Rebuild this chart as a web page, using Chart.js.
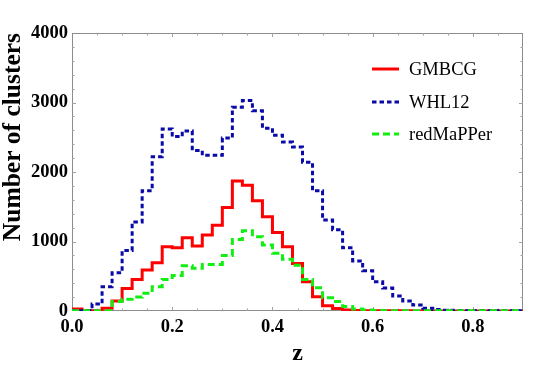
<!DOCTYPE html>
<html><head><meta charset="utf-8">
<script src="https://cdn.jsdelivr.net/npm/chart.js@4.4.1/dist/chart.umd.min.js"></script>
<style>html,body{margin:0;padding:0;background:#fff;} canvas{display:block;}</style>
</head><body>
<canvas id="c" width="556" height="370"></canvas>
<script>
// ---- data ----
const binLeft = [0.00,0.02,0.04,0.06,0.08,0.10,0.12,0.14,0.16,0.18,
                 0.20,0.22,0.24,0.26,0.28,0.30,0.32,0.34,0.36,0.38,
                 0.40,0.42,0.44,0.46,0.48,0.50,0.52,0.54,0.56,0.58,
                 0.60,0.62,0.64,0.66,0.68,0.70,0.72,0.74,0.76,0.78,
                 0.80,0.82,0.84,0.86,0.88];
const lastBinRight = 0.90;
const gmbcg = [30,3,3,40,145,325,455,590,695,925,
               910,1055,935,1095,1235,1490,1870,1810,1585,1355,
               1130,925,685,420,205,75,35,15,6,4,
               3,2,2,2,1,1,1,1,1,1,
               1,1,1,1,1];
const whl12 = [5,5,100,350,550,870,1280,1730,2220,2620,
               2510,2590,2310,2240,2240,2490,2930,3030,2880,2630,
               2530,2430,2360,2140,1730,1310,1170,910,720,580,
               420,330,215,145,85,40,20,12,8,5,
               4,3,3,2,2];
const redmapper = [2,2,2,2,135,170,200,255,350,455,
                   510,650,615,670,670,800,1030,1155,1070,950,
                   830,745,660,455,335,190,135,65,30,15,
                   8,5,4,3,3,2,2,2,2,2,
                   2,2,2,2,2];
const seriesNames = ['GMBCG','WHL12','redMaPPer'];
const xTickLabels = ['0.0','0.2','0.4','0.6','0.8'];
const yTickLabels = ['0','1000','2000','3000','4000'];
const xTitle = 'z';
const yTitle = 'Number of clusters';

// ---- helpers ----
function stepPoints(vals){
  const pts = binLeft.map((x,i)=>({x:x, y:vals[i]}));
  pts.push({x:lastBinRight, y:vals[vals.length-1]});
  return pts;
}
const SERIF = "'Liberation Serif','Times New Roman',serif";

const frameTicks = {
  id:'frameTicks',
  beforeDatasetsDraw(chart){
    const {ctx, chartArea:{left,right,top,bottom}, scales:{x,y}} = chart;
    ctx.save();
    ctx.strokeStyle = '#8c8c8c';
    ctx.lineWidth = 1;
    ctx.strokeRect(left+0.5, top+0.5, right-left-1, bottom-top-1);
    ctx.strokeStyle = '#a0a0a0';
    ctx.beginPath();
    for (let k=1;k<18;k++){
      const v = k*0.05;
      const px = Math.round(x.getPixelForValue(v))+0.5;
      const len = (k%4===0)?4:2.5;
      ctx.moveTo(px,bottom); ctx.lineTo(px,bottom-len);
      ctx.moveTo(px,top); ctx.lineTo(px,top+len);
    }
    for (let k=1;k<20;k++){
      const v = k*200;
      const py = Math.round(y.getPixelForValue(v))+0.5;
      const len = (k%5===0)?4:2.5;
      ctx.moveTo(left,py); ctx.lineTo(left+len,py);
      ctx.moveTo(right,py); ctx.lineTo(right-len,py);
    }
    ctx.stroke();
    ctx.restore();
  }
};

const legendBox = {
  id:'legendBox',
  afterDatasetsDraw(chart){
    const {ctx} = chart;
    const rows = [69,102,134];
    ctx.save();
    chart.data.datasets.forEach((ds,i)=>{
      const yy = rows[i];
      ctx.strokeStyle = ds.borderColor;
      ctx.lineWidth = ds.borderWidth;
      ctx.setLineDash(ds.borderDash||[]);
      ctx.beginPath(); ctx.moveTo(372,yy); ctx.lineTo(399,yy); ctx.stroke();
      ctx.setLineDash([]);
      ctx.fillStyle = '#000';
      ctx.font = "18.5px " + SERIF;
      ctx.textBaseline = 'middle';
      ctx.textAlign = 'left';
      ctx.fillText(ds.label, 409, yy+1);
    });
    ctx.restore();
  }
};

new Chart(document.getElementById('c'), {
  type:'line',
  data:{
    datasets:[
      {label:seriesNames[0], data:stepPoints(gmbcg), borderColor:'#ff0000', borderWidth:3, stepped:'before', pointRadius:0, order:2, fill:false},
      {label:seriesNames[1], data:stepPoints(whl12), borderColor:'#0a0aa8', borderWidth:3, borderDash:[4.5,3], stepped:'before', pointRadius:0, order:1, fill:false},
      {label:seriesNames[2], data:stepPoints(redmapper), borderColor:'#11ee11', borderWidth:3, borderDash:[7,4], stepped:'before', pointRadius:0, order:0, fill:false}
    ]
  },
  options:{
    responsive:false, animation:false, devicePixelRatio:1,
    layout:{padding:{left:0,right:33,top:33,bottom:0}},
    plugins:{legend:{display:false}, tooltip:{enabled:false}},
    scales:{
      x:{type:'linear', min:0, max:lastBinRight,
         grid:{display:false, drawTicks:false}, border:{display:false},
         afterBuildTicks(s){ s.ticks = xTickLabels.map(t=>({value:parseFloat(t)})); },
         afterFit(s){ s.height = 59; },
         ticks:{autoSkip:false, maxRotation:0, padding:5, color:'#000',
                font:{family:SERIF, size:18.5, weight:'bold'},
                callback:(v,i)=>xTickLabels[i]},
         title:{display:true, text:xTitle, color:'#000', padding:{top:0,bottom:4},
                font:{family:SERIF, size:24, weight:'bold', lineHeight:1}}},
      y:{type:'linear', min:0, max:4000,
         grid:{display:false, drawTicks:false}, border:{display:false},
         afterBuildTicks(s){ s.ticks = yTickLabels.map(t=>({value:parseFloat(t)})); },
         afterFit(s){ s.width = 72; },
         ticks:{autoSkip:false, padding:4, color:'#000',
                font:{family:SERIF, size:18.5, weight:'bold'},
                callback:(v,i)=>yTickLabels[i]},
         title:{display:true, text:yTitle, align:'end', color:'#000', padding:{top:1,bottom:0},
                font:{family:SERIF, size:25.5, weight:'bold', lineHeight:1}}}
    }
  },
  plugins:[frameTicks, legendBox]
});
</script>
</body></html>
